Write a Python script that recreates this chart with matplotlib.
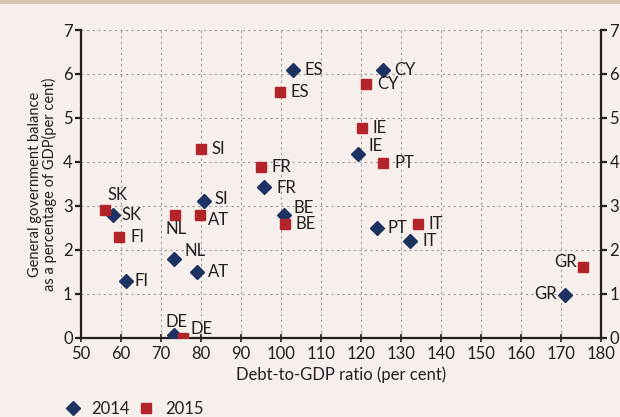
import numpy as np
import matplotlib.pyplot as plt
from matplotlib.patches import Rectangle
from matplotlib.lines import Line2D

plt.rcParams['font.family'] = ['Lato', 'DejaVu Sans']

countries = ["SK", "FI", "NL", "AT", "SI", "DE", "FR", "BE", "ES", "IE", "CY", "PT", "IT", "GR"]

debt_2014 = [58, 61.2, 73.3, 79.0, 80.8, 73.2, 95.8, 100.8, 103.0, 119.3, 125.5, 124.0, 132.3, 171.0]
bal_2014 = [2.8, 1.3, 1.8, 1.5, 3.1, 0.07, 3.42, 2.8, 6.1, 4.18, 6.1, 2.5, 2.2, 0.98]

debt_2015 = [56.0, 59.5, 73.5, 79.8, 80.0, 75.6, 95.0, 101.0, 99.8, 120.3, 121.3, 125.6, 134.2, 175.6]
bal_2015 = [2.9, 2.3, 2.8, 2.8, 4.3, 0.0, 3.88, 2.58, 5.58, 4.78, 5.78, 3.98, 2.58, 1.6]

# label offsets in pixels (dx, dy, ha)
offs_2014 = {"SK": (9, 0, "left"), "FI": (9, 0, "left"), "NL": (10, 8, "left"),
             "AT": (11, 0, "left"), "SI": (10, 2, "left"), "DE": (3, 13, "center"),
             "FR": (12, -1, "left"), "BE": (9, 7, "left"), "ES": (12, 0, "left"),
             "IE": (10, 8, "left"), "CY": (11, 0, "left"), "PT": (11, 0, "left"),
             "IT": (12, 0, "left"), "GR": (-8, 1, "right")}
offs_2015 = {"SK": (3, 15, "left"), "FI": (12, 0, "left"), "NL": (1, -14, "center"),
             "AT": (8, -5, "left"), "SI": (11, 0, "left"), "DE": (7, 9, "left"),
             "FR": (11, 0, "left"), "BE": (11, 0, "left"), "ES": (10, 0, "left"),
             "IE": (10, 0, "left"), "CY": (11, 0, "left"), "PT": (11, 0, "left"),
             "IT": (11, 0, "left"), "GR": (-6, 5, "right")}

navy = "#1c3263"
red = "#b3232a"
bg = "#f6efeb"
dark = "#231f20"

fig = plt.figure(figsize=(6.2, 4.17), dpi=100, facecolor=bg)
fig.patches.append(Rectangle((0, 0.99), 1, 0.01, transform=fig.transFigure,
                             facecolor="#d5c4b4", edgecolor="none"))
ax = fig.add_axes([0.1306, 0.190, 0.8387, 0.738])
ax.set_facecolor(bg)

ax.plot(debt_2014, bal_2014, linestyle="none", marker="D", markersize=7.5,
        color=navy, zorder=3)
ax.plot(debt_2015, bal_2015, linestyle="none", marker="s", markersize=7,
        color=red, zorder=3)

for i, c in enumerate(countries):
    dx, dy, ha = offs_2014[c]
    ax.annotate(c, (debt_2014[i], bal_2014[i]), xytext=(dx, dy),
                textcoords="offset pixels", ha=ha, va="center",
                fontsize=12, color=dark, zorder=4)
    dx, dy, ha = offs_2015[c]
    ax.annotate(c, (debt_2015[i], bal_2015[i]), xytext=(dx, dy),
                textcoords="offset pixels", ha=ha, va="center",
                fontsize=12, color=dark, zorder=4)

ax.set_xlim(50, 180)
ax.set_ylim(0, 7)
ax.set_xticks(np.arange(50, 181, 10))
ax.set_yticks(np.arange(0, 8, 1))
ax.grid(True, color="#9a9a9a", linestyle=(0, (2, 3)), linewidth=0.8)
ax.set_axisbelow(True)

for s in ["left", "right", "bottom"]:
    ax.spines[s].set_color(dark)
    ax.spines[s].set_linewidth(1.6)
ax.spines["top"].set_visible(False)

ax.tick_params(axis="y", direction="out", length=4, width=1.6, color=dark,
               labelsize=12, labelcolor=dark, right=True, labelright=True, pad=2)
ax.tick_params(axis="x", direction="inout", length=6, width=1.2, color=dark,
               labelsize=12, labelcolor=dark, pad=3)

ax.set_xlabel("Debt-to-GDP ratio (per cent)", fontsize=12, color=dark, labelpad=3)
ax.set_ylabel("General government balance\nas a percentage of GDP(per cent)",
              fontsize=10.5, color=dark, labelpad=4, linespacing=1.0)

handles = [Line2D([], [], linestyle="none", marker="D", markersize=7.5, color=navy),
           Line2D([], [], linestyle="none", marker="s", markersize=7, color=red)]
fig.legend(handles, ["2014", "2015"], loc="lower left", bbox_to_anchor=(0.08, -0.035),
           ncol=2, frameon=False, fontsize=12, handlelength=1.0, handletextpad=0.6,
           columnspacing=0.5, labelcolor=dark)

fig.savefig("out.png", dpi=100, facecolor=bg)
